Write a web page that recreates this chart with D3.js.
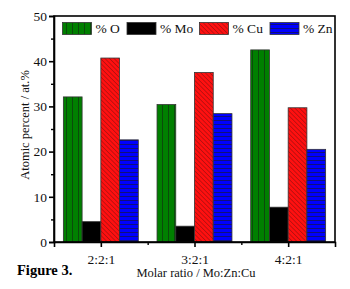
<!DOCTYPE html>
<html>
<head>
<meta charset="utf-8">
<script src="https://cdn.jsdelivr.net/npm/d3@7"></script>
<style>
  body { margin: 0; background: #fff; }
  svg text { font-family: "Liberation Serif", "Times New Roman", serif; }
</style>
</head>
<body>
<div id="chart"></div>
<script>
// Chart data
const categories = ['2:2:1', '3:2:1', '4:2:1'];
const seriesNames = ['% O', '% Mo', '% Cu', '% Zn'];
const valuesO = [32.1, 30.4, 42.5];
const valuesMo = [4.5, 3.5, 7.7];
const valuesCu = [40.7, 37.5, 29.7];
const valuesZn = [22.6, 28.4, 20.5];
const yTicks = [0, 10, 20, 30, 40, 50];

const allSeries = [valuesO, valuesMo, valuesCu, valuesZn];

const width = 350, height = 289;
const margin = { top: 16, right: 15, bottom: 47, left: 54 };
const plotW = width - margin.left - margin.right;
const plotH = height - margin.top - margin.bottom;

const svg = d3.select('#chart').append('svg')
    .attr('width', width)
    .attr('height', height);

// Hatch patterns
const defs = svg.append('defs');

const pO = defs.append('pattern').attr('id', 'patO')
    .attr('patternUnits', 'userSpaceOnUse').attr('width', 6).attr('height', 10);
pO.append('rect').attr('width', 6).attr('height', 10).attr('fill', '#007f00');
pO.append('rect').attr('x', 0).attr('y', 0).attr('width', 1).attr('height', 10)
    .attr('fill', '#0b4a0b');

const pCu = defs.append('pattern').attr('id', 'patCu')
    .attr('patternUnits', 'userSpaceOnUse').attr('width', 3.2).attr('height', 3.2)
    .attr('patternTransform', 'rotate(45)');
pCu.append('rect').attr('width', 3.2).attr('height', 3.2).attr('fill', '#ff1010');
pCu.append('line').attr('x1', 0).attr('x2', 3.2).attr('y1', 0.3).attr('y2', 0.3)
    .attr('stroke', '#8a1010').attr('stroke-width', 0.6);

const pZn = defs.append('pattern').attr('id', 'patZn')
    .attr('patternUnits', 'userSpaceOnUse').attr('width', 10).attr('height', 4);
pZn.append('rect').attr('width', 10).attr('height', 4).attr('fill', '#0000ff');
pZn.append('rect').attr('x', 0).attr('y', 0).attr('width', 10).attr('height', 0.8)
    .attr('fill', '#14145a');

const fills = ['url(#patO)', '#000000', 'url(#patCu)', 'url(#patZn)'];

const g = svg.append('g')
    .attr('transform', `translate(${margin.left}, ${margin.top})`);

// Scales
const x = d3.scaleLinear().domain([0.5, 3.5]).range([0, plotW]);
const y = d3.scaleLinear().domain([0, 50]).range([plotH, 0]);
const barW = 0.2;

// Bars
allSeries.forEach((vals, si) => {
    g.selectAll('.bar-' + si)
        .data(vals)
        .enter()
        .append('rect')
        .attr('class', 'bar-' + si)
        .attr('x', (d, i) => x(i + 1 - 0.4 + si * barW))
        .attr('width', x(1 + barW) - x(1))
        .attr('y', d => y(d))
        .attr('height', d => y(0) - y(d))
        .attr('fill', fills[si])
        .attr('stroke', '#333')
        .attr('stroke-width', 0.8);
});

// Frame
g.append('rect')
    .attr('x', 0).attr('y', 0)
    .attr('width', plotW).attr('height', plotH)
    .attr('fill', 'none')
    .attr('stroke', '#000')
    .attr('stroke-width', 1.6);

// Y axis (major + minor ticks)
const yAxis = g.append('g')
    .call(d3.axisLeft(y).tickValues(yTicks).tickSize(5).tickPadding(2));
yAxis.selectAll('.tick text').style('font-size', '13.5px').attr('fill', '#111');
yAxis.select('.domain').attr('stroke-width', 1.6);
yAxis.selectAll('.tick line').attr('stroke-width', 1.6);
g.append('g')
    .call(d3.axisLeft(y).tickValues([5, 15, 25, 35, 45]).tickSize(3).tickFormat(''))
    .call(a => a.select('.domain').remove())
    .selectAll('.tick line').attr('stroke-width', 1.4);

// X axis
const xAxis = g.append('g')
    .attr('transform', `translate(0, ${plotH})`)
    .call(d3.axisBottom(x).tickValues([1, 2, 3]).tickSize(5).tickPadding(7)
        .tickFormat(d => categories[d - 1]));
xAxis.selectAll('.tick text').style('font-size', '13.5px').attr('fill', '#111');
xAxis.select('.domain').attr('stroke-width', 1.6);
xAxis.selectAll('.tick line').attr('stroke-width', 1.6);
g.append('g')
    .attr('transform', `translate(0, ${plotH})`)
    .call(d3.axisBottom(x).tickValues([1.5, 2.5]).tickSize(3).tickFormat(''))
    .call(a => a.select('.domain').remove())
    .selectAll('.tick line').attr('stroke-width', 1.4);

// Axis titles
svg.append('text')
    .attr('transform', `translate(29, ${margin.top + plotH / 2 - 4}) rotate(-90)`)
    .attr('text-anchor', 'middle')
    .style('font-size', '12.5px')
    .attr('fill', '#111')
    .text('Atomic percent / at.%');

svg.append('text')
    .attr('x', 196)
    .attr('y', 277)
    .attr('text-anchor', 'middle')
    .style('font-size', '12.5px')
    .attr('fill', '#111')
    .text('Molar ratio / Mo:Zn:Cu');

svg.append('text')
    .attr('x', 17)
    .attr('y', 275)
    .style('font-size', '14.5px')
    .style('font-weight', 'bold')
    .attr('fill', '#000')
    .text('Figure 3.');

// Legend
const legendX = [62.5, 127, 199.5, 270];
const legend = svg.append('g');
seriesNames.forEach((name, i) => {
    legend.append('rect')
        .attr('x', legendX[i]).attr('y', 22.5)
        .attr('width', 29).attr('height', 12)
        .attr('fill', fills[i])
        .attr('stroke', '#333')
        .attr('stroke-width', 0.8);
    legend.append('text')
        .attr('x', legendX[i] + 33)
        .attr('y', 33)
        .style('font-size', '13.5px')
        .attr('fill', '#111')
        .text(name);
});
</script>
</body>
</html>
